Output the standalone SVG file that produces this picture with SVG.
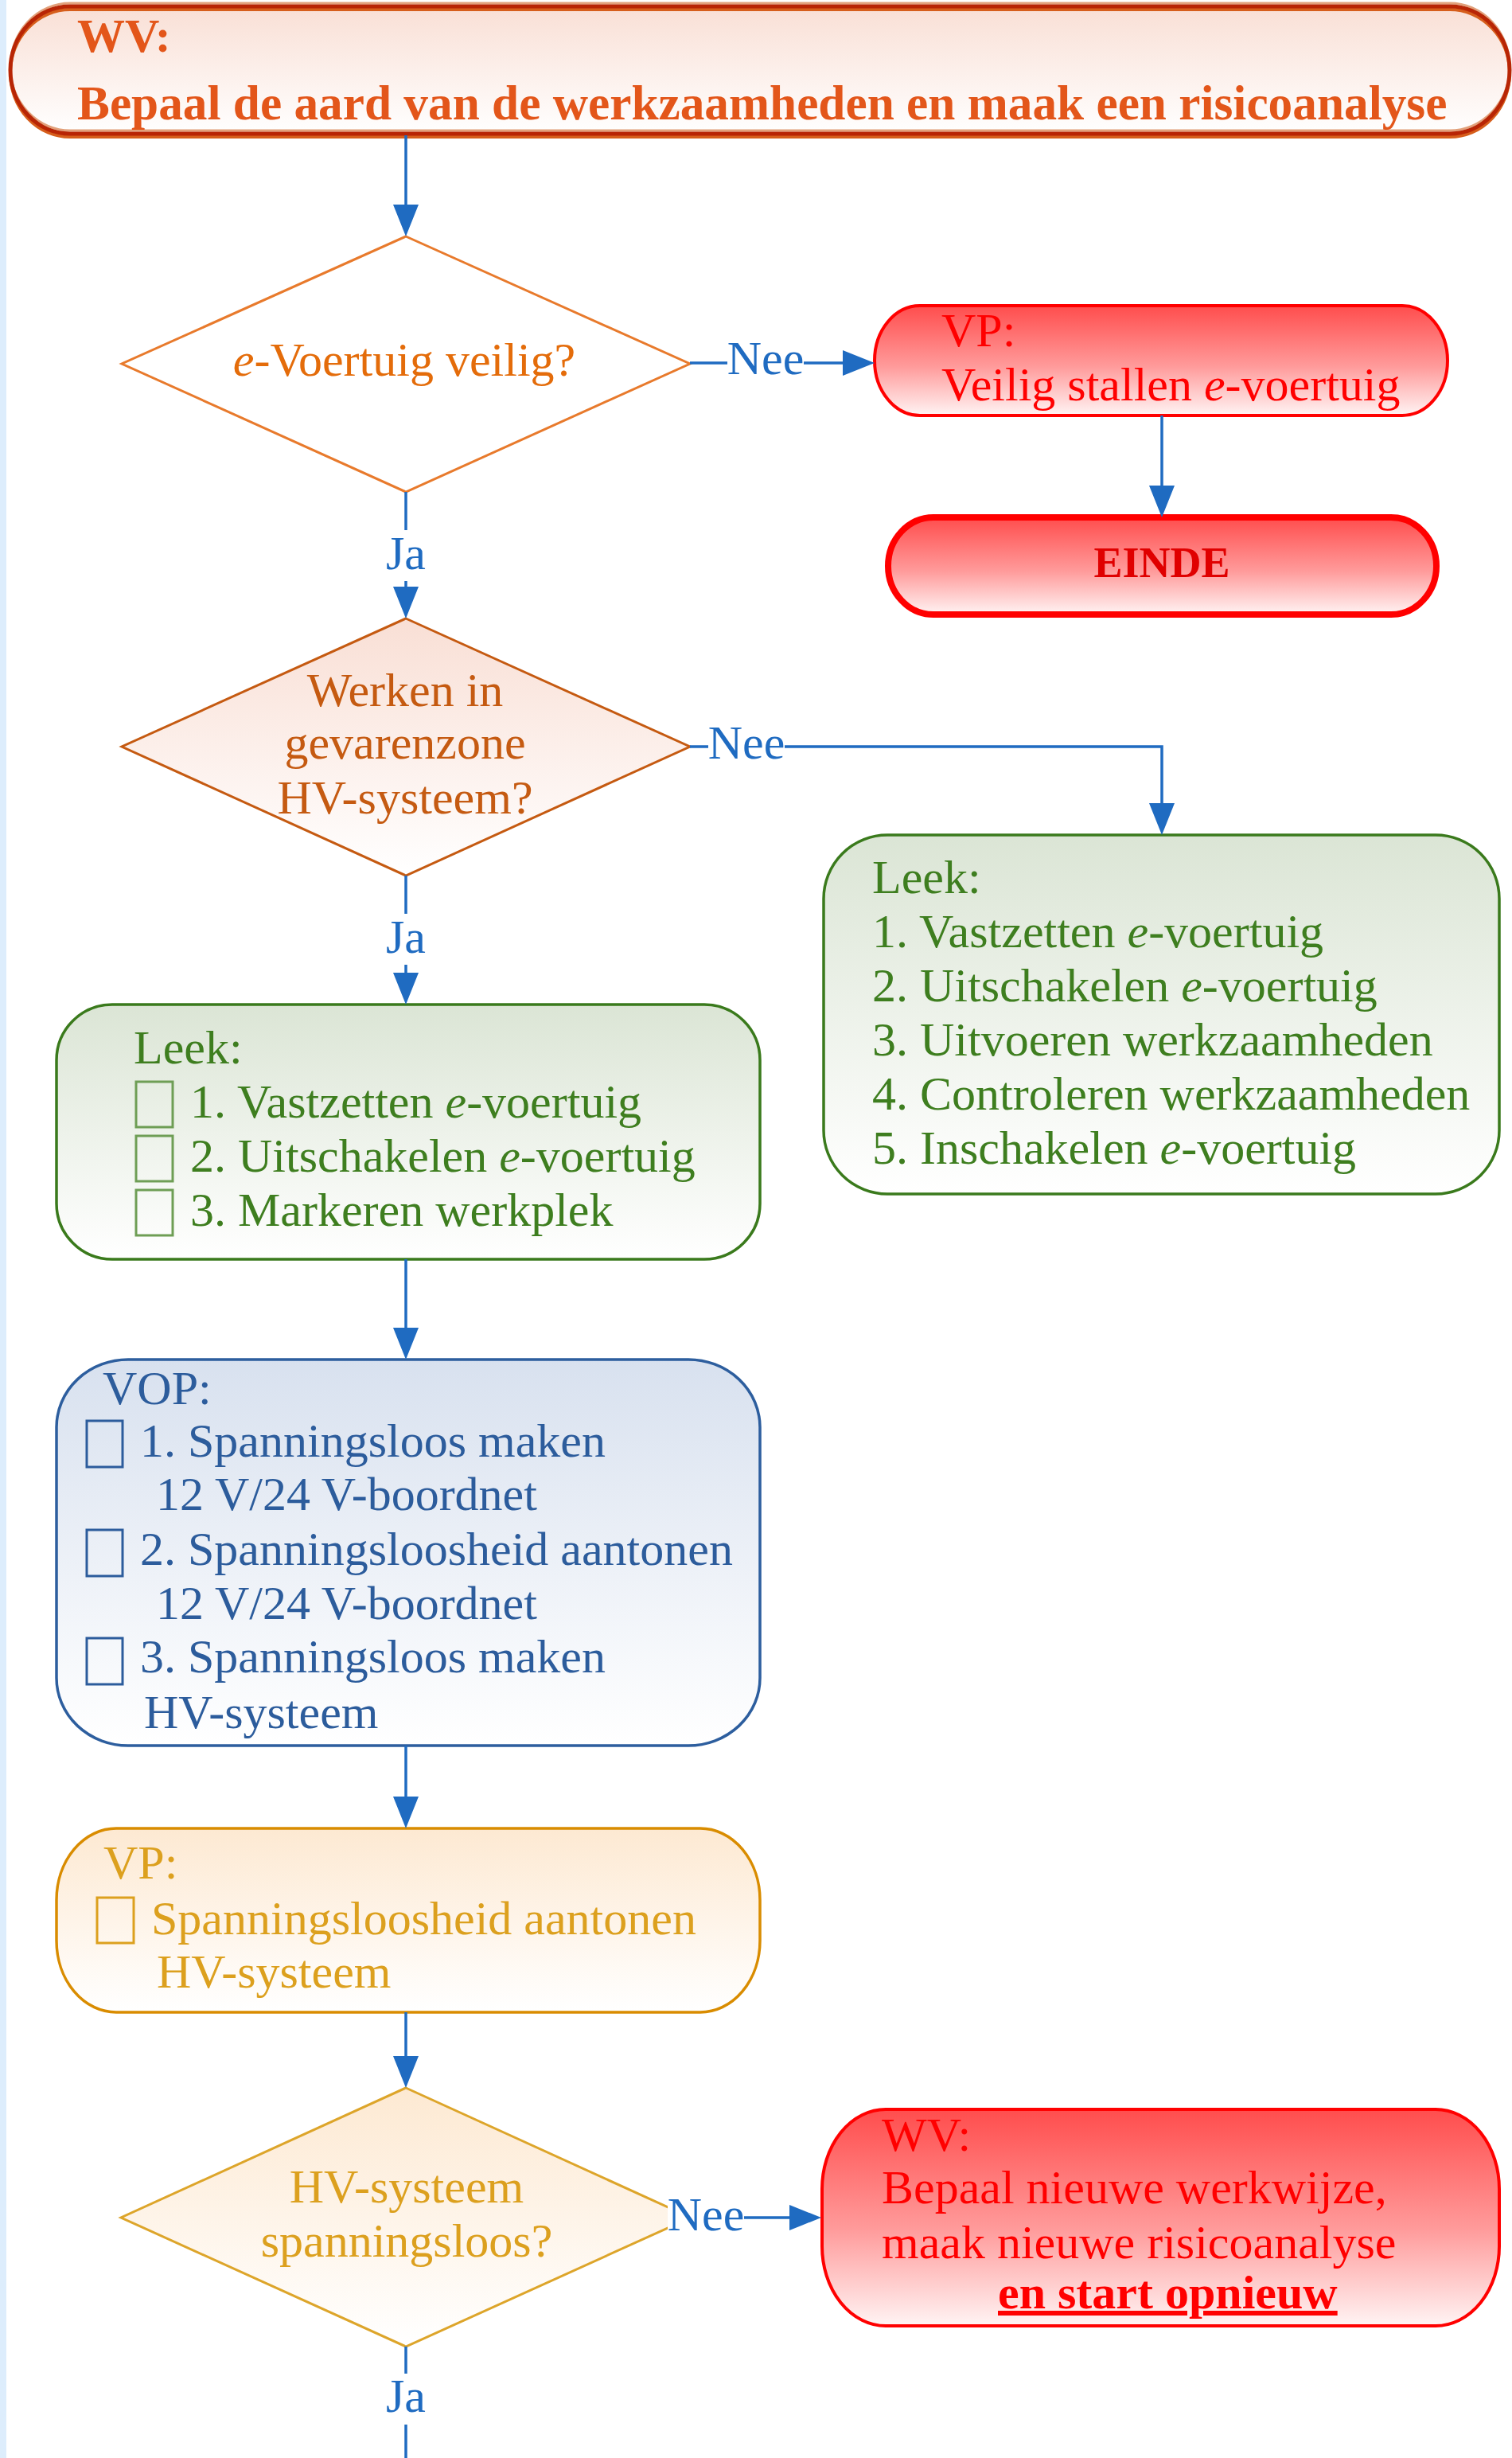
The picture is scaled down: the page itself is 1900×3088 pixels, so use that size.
<svg xmlns="http://www.w3.org/2000/svg" width="1900" height="3088" viewBox="0 0 1900 3088">
<defs>
  <linearGradient id="gPeach" x1="0" y1="0" x2="0" y2="1"><stop offset="0" stop-color="#F9DFD5"/><stop offset="1" stop-color="#FFFFFF"/></linearGradient>
  <linearGradient id="gRed" x1="0" y1="0" x2="0" y2="1"><stop offset="0" stop-color="#FF4D4D"/><stop offset="0.55" stop-color="#FF9A9A"/><stop offset="1" stop-color="#FFF4F4"/></linearGradient>
  <linearGradient id="gGreen" x1="0" y1="0" x2="0" y2="1"><stop offset="0" stop-color="#DBE5D5"/><stop offset="1" stop-color="#FFFFFF"/></linearGradient>
  <linearGradient id="gBlue" x1="0" y1="0" x2="0" y2="1"><stop offset="0" stop-color="#D8E1EF"/><stop offset="1" stop-color="#FFFFFF"/></linearGradient>
  <linearGradient id="gGold" x1="0" y1="0" x2="0" y2="1"><stop offset="0" stop-color="#FDE9D2"/><stop offset="1" stop-color="#FFFFFF"/></linearGradient>
  <marker id="ah" markerUnits="userSpaceOnUse" markerWidth="40" markerHeight="32" refX="30" refY="16" orient="auto"><path d="M0,0 L40,16 L0,32 Z" fill="#1F6BC1"/></marker>
</defs>
<style>
  .t{font-family:"Liberation Serif","Times New Roman",serif;font-size:60px}
  .b{font-weight:bold}
  .i{font-style:italic}
  .conn{fill:none;stroke:#1F6BC1;stroke-width:3.5}
  .lblbg{fill:#FFFFFF}
  .lbl{fill:#1F6BC1}
  .orange{fill:#E3561A}
  .dorange{fill:#C55A11}
  .lorange{fill:#E46C0A}
  .red{fill:#FF0000}
  .green{fill:#3E7E1F}
  .blue{fill:#2C5C9C}
  .gold{fill:#DCA01E}
  .cbg{fill:none;stroke:#6E9E55;stroke-width:3}
  .cbb{fill:none;stroke:#2C5C9C;stroke-width:3}
  .cbo{fill:none;stroke:#DCA01E;stroke-width:3}
</style>
<rect x="0" y="0" width="1900" height="3088" fill="#FFFFFF"/>
<rect x="0" y="0" width="8" height="3088" fill="#DDEDFC"/>

<g id="n-start">
  <rect x="13" y="8" width="1884" height="160" rx="75" ry="80" fill="url(#gPeach)"/>
  <rect x="13" y="4" width="1884" height="160" rx="75" ry="80" fill="none" stroke="#E2A07A" stroke-width="3"/>
  <rect x="13" y="12" width="1884" height="160" rx="75" ry="80" fill="none" stroke="#D65E1C" stroke-width="4"/>
  <rect x="13" y="8" width="1884" height="160" rx="75" ry="80" fill="none" stroke="#B82505" stroke-width="5"/>
  <text class="t b orange" x="97" y="65">WV:</text>
  <text class="t b orange" x="97" y="150" style="font-size:61.3px">Bepaal de aard van de werkzaamheden en maak een risicoanalyse</text>
</g>

<g id="n-veilig">
  <polygon points="510,297 867,457 510,618 153,457" fill="#FFFFFF" stroke="#E87A2C" stroke-width="3"/>
  <text class="t lorange" x="508" y="472" text-anchor="middle"><tspan class="i">e</tspan>-Voertuig veilig?</text>
</g>

<g id="n-vp-stallen">
  <rect x="1099" y="384" width="720" height="138" rx="57" ry="69" fill="url(#gRed)" stroke="#FF0000" stroke-width="4"/>
  <text class="t red" x="1183" y="435">VP:</text>
  <text class="t red" x="1183" y="503">Veilig stallen <tspan class="i">e</tspan>-voertuig</text>
</g>

<g id="n-einde">
  <rect x="1116" y="650" width="689" height="122" rx="57" ry="61" fill="url(#gRed)" stroke="#FF0000" stroke-width="8"/>
  <text class="t b" x="1460" y="725" text-anchor="middle" style="font-size:54px" fill="#E00000">EINDE</text>
</g>

<g id="n-gevarenzone">
  <polygon points="510,777 867,938 510,1100 153,938" fill="url(#gPeach)" stroke="#C55A11" stroke-width="3"/>
  <text class="t dorange" x="509" y="887" text-anchor="middle">Werken in</text>
  <text class="t dorange" x="509" y="953" text-anchor="middle">gevarenzone</text>
  <text class="t dorange" x="509" y="1022" text-anchor="middle">HV-systeem?</text>
</g>

<g id="n-leek-rechts">
  <rect x="1035" y="1049" width="849" height="451" rx="80" ry="80" fill="url(#gGreen)" stroke="#3A7A1C" stroke-width="3.5"/>
  <text class="t green" x="1096" y="1122">Leek:</text>
  <text class="t green" x="1096" y="1190">1. Vastzetten <tspan class="i">e</tspan>-voertuig</text>
  <text class="t green" x="1096" y="1258">2. Uitschakelen <tspan class="i">e</tspan>-voertuig</text>
  <text class="t green" x="1096" y="1326">3. Uitvoeren werkzaamheden</text>
  <text class="t green" x="1096" y="1394">4. Controleren werkzaamheden</text>
  <text class="t green" x="1096" y="1462">5. Inschakelen <tspan class="i">e</tspan>-voertuig</text>
</g>

<g id="n-leek-links">
  <rect x="71" y="1262" width="884" height="320" rx="70" ry="70" fill="url(#gGreen)" stroke="#3A7A1C" stroke-width="3.5"/>
  <text class="t green" x="168" y="1336">Leek:</text>
  <rect class="cbg" x="171" y="1359" width="46" height="57"/>
  <rect class="cbg" x="171" y="1427" width="46" height="57"/>
  <rect class="cbg" x="171" y="1495" width="46" height="57"/>
  <text class="t green" x="239" y="1404">1. Vastzetten <tspan class="i">e</tspan>-voertuig</text>
  <text class="t green" x="239" y="1472">2. Uitschakelen <tspan class="i">e</tspan>-voertuig</text>
  <text class="t green" x="239" y="1540">3. Markeren werkplek</text>
</g>

<g id="n-vop">
  <rect x="71" y="1708" width="884" height="485" rx="90" ry="85" fill="url(#gBlue)" stroke="#2D5E9E" stroke-width="3.5"/>
  <text class="t blue" x="129" y="1764">VOP:</text>
  <rect class="cbb" x="109" y="1785" width="45" height="58"/>
  <rect class="cbb" x="109" y="1922" width="45" height="58"/>
  <rect class="cbb" x="109" y="2058" width="45" height="58"/>
  <text class="t blue" x="176" y="1830">1. Spanningsloos maken</text>
  <text class="t blue" x="196" y="1897">12 V/24 V-boordnet</text>
  <text class="t blue" x="176" y="1966">2. Spanningsloosheid aantonen</text>
  <text class="t blue" x="196" y="2034">12 V/24 V-boordnet</text>
  <text class="t blue" x="176" y="2101">3. Spanningsloos maken</text>
  <text class="t blue" x="181" y="2171">HV-systeem</text>
</g>

<g id="n-vp-aantonen">
  <rect x="71" y="2297" width="884" height="231" rx="75" ry="90" fill="url(#gGold)" stroke="#D98C00" stroke-width="3.5"/>
  <text class="t gold" x="130" y="2360">VP:</text>
  <rect class="cbo" x="122" y="2384" width="46" height="57"/>
  <text class="t gold" x="190" y="2430">Spanningsloosheid aantonen</text>
  <text class="t gold" x="197" y="2497">HV-systeem</text>
</g>

<g id="n-spanningsloos">
  <polygon points="510,2623 868,2786 510,2948 152,2786" fill="url(#gGold)" stroke="#DDA52A" stroke-width="3"/>
  <text class="t gold" x="511" y="2767" text-anchor="middle">HV-systeem</text>
  <text class="t gold" x="511" y="2835" text-anchor="middle">spanningsloos?</text>
</g>

<g id="n-wv-opnieuw">
  <rect x="1033" y="2650" width="851" height="272" rx="80" ry="100" fill="url(#gRed)" stroke="#FF0000" stroke-width="4"/>
  <text class="t red" x="1108" y="2702">WV:</text>
  <text class="t red" x="1108" y="2768">Bepaal nieuwe werkwijze,</text>
  <text class="t red" x="1108" y="2837">maak nieuwe risicoanalyse</text>
  <text class="t b red" x="1254" y="2900" text-decoration="underline">en start opnieuw</text>
</g>

<g id="connectors">
  <path class="conn" d="M510,170 V287" marker-end="url(#ah)"/>
  <path class="conn" d="M867,456 H1089" marker-end="url(#ah)"/>
  <path class="conn" d="M1460,522 V640" marker-end="url(#ah)"/>
  <path class="conn" d="M510,618 V767" marker-end="url(#ah)"/>
  <path class="conn" d="M867,938 H1460 V1039" marker-end="url(#ah)"/>
  <path class="conn" d="M510,1100 V1252" marker-end="url(#ah)"/>
  <path class="conn" d="M510,1582 V1698" marker-end="url(#ah)"/>
  <path class="conn" d="M510,2193 V2287" marker-end="url(#ah)"/>
  <path class="conn" d="M510,2528 V2613" marker-end="url(#ah)"/>
  <path class="conn" d="M860,2786 H1022" marker-end="url(#ah)"/>
  <path class="conn" d="M510,2948 V3088"/>
  <g id="lbl-nee-1"><rect class="lblbg" x="914" y="426" width="96" height="56"/><text class="t lbl" x="962" y="470" text-anchor="middle">Nee</text></g>
  <g id="lbl-ja-1"><rect class="lblbg" x="486" y="666" width="48" height="64"/><text class="t lbl" x="510" y="715" text-anchor="middle">Ja</text></g>
  <g id="lbl-nee-2"><rect class="lblbg" x="890" y="908" width="96" height="56"/><text class="t lbl" x="938" y="953" text-anchor="middle">Nee</text></g>
  <g id="lbl-ja-2"><rect class="lblbg" x="486" y="1148" width="48" height="64"/><text class="t lbl" x="510" y="1197" text-anchor="middle">Ja</text></g>
  <g id="lbl-nee-3"><rect class="lblbg" x="839" y="2755" width="96" height="58"/><text class="t lbl" x="887" y="2802" text-anchor="middle">Nee</text></g>
  <g id="lbl-ja-3"><rect class="lblbg" x="486" y="2982" width="48" height="64"/><text class="t lbl" x="510" y="3030" text-anchor="middle">Ja</text></g>
</g>
</svg>
